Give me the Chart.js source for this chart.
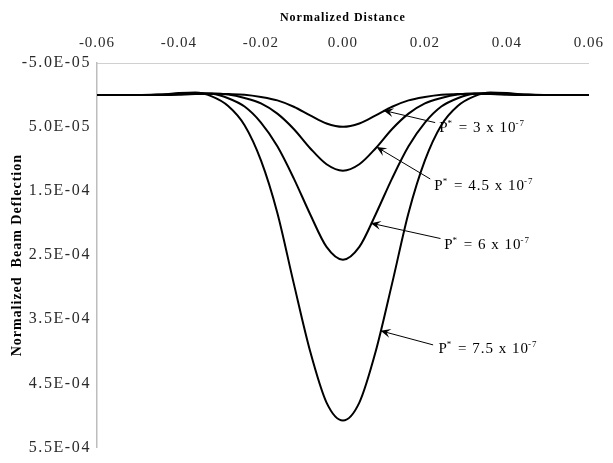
<!DOCTYPE html>
<html>
<head>
<meta charset="utf-8">
<script src="https://cdn.jsdelivr.net/npm/chart.js@4.4.1/dist/chart.umd.min.js"></script>
<style>
  html, body { margin: 0; padding: 0; background: #ffffff; }
  #wrap { width: 613px; height: 463px; }
</style>
</head>
<body>
<div id="wrap"><canvas id="c" width="613" height="463"></canvas></div>
<script>
// ---- Data ----
const xValues = [-0.06, -0.05, -0.044, -0.04, -0.036, -0.032, -0.028, -0.024, -0.02, -0.016, -0.012, -0.008, -0.004, 0,
                  0.004, 0.008, 0.012, 0.016, 0.02, 0.024, 0.028, 0.032, 0.036, 0.04, 0.044, 0.05, 0.06];

const seriesP3  = [0, 0, 0, -1e-6, -1.5e-6, -2e-6, -1.5e-6, -0.5e-6, 3e-6, 8.4e-6, 1.83e-5, 3.18e-5, 4.44e-5, 4.96e-5,
                   4.44e-5, 3.18e-5, 1.83e-5, 8.4e-6, 3e-6, -0.5e-6, -1.5e-6, -2e-6, -1.5e-6, -1e-6, 0, 0, 0];
const seriesP45 = [0, 0, 0, -1e-6, -2e-6, -2.5e-6, -1e-6, 4.5e-6, 1.3e-5, 2.9e-5, 5.3e-5, 8.3e-5, 1.08e-4, 1.18e-4,
                   1.08e-4, 8.3e-5, 5.3e-5, 2.9e-5, 1.3e-5, 4.5e-6, -1e-6, -2.5e-6, -2e-6, -1e-6, 0, 0, 0];
const seriesP6  = [0, 0, -1e-6, -2e-6, -3e-6, -2e-6, 5e-6, 1.8e-5, 4.3e-5, 8.0e-5, 1.3e-4, 1.86e-4, 2.37e-4, 2.57e-4,
                   2.37e-4, 1.86e-4, 1.3e-4, 8.0e-5, 4.3e-5, 1.8e-5, 5e-6, -2e-6, -3e-6, -2e-6, -1e-6, 0, 0];
const seriesP75 = [0, 0, -1e-6, -3e-6, -4e-6, 2e-6, 1.7e-5, 4.7e-5, 1.02e-4, 1.84e-4, 2.94e-4, 4.0e-4, 4.8e-4, 5.08e-4,
                   4.8e-4, 4.0e-4, 2.94e-4, 1.84e-4, 1.02e-4, 4.7e-5, 1.7e-5, 2e-6, -4e-6, -3e-6, -1e-6, 0, 0];

const xTickValues = [-0.06, -0.04, -0.02, 0.00, 0.02, 0.04, 0.06];
const xTickLabels = ['-0.06', '-0.04', '-0.02', '0.00', '0.02', '0.04', '0.06'];
const yTickValues = [-5e-5, 5e-5, 1.5e-4, 2.5e-4, 3.5e-4, 4.5e-4, 5.5e-4];
const yTickLabels = ['-5.0E-05', '5.0E-05', '1.5E-04', '2.5E-04', '3.5E-04', '4.5E-04', '5.5E-04'];

// label annotations: mantissa, tip point on curve, line end, text anchor (data units)
const labelMantissas = ['3', '4.5', '6', '7.5'];
const labelTips      = [[0.0099, 2.4e-5], [0.0082, 8.1e-5], [0.0068, 2.0e-4], [0.0092, 3.68e-4]];
const labelLineEnds  = [[0.0225, 4.3e-5], [0.0213, 1.31e-4], [0.0238, 2.24e-4], [0.0220, 3.9e-4]];
const labelTextPos   = [[0.0235, 5.0e-5], [0.0223, 1.40e-4], [0.0247, 2.32e-4], [0.0233, 3.95e-4]];

const toPoints = ys => xValues.map((x, i) => ({ x: x, y: ys[i] }));

const serif = "'Liberation Serif', 'Times New Roman', serif";

const wideText = {
  id: 'wideText',
  beforeDraw(chart) {
    chart.ctx.letterSpacing = '1px';
    const ys = chart.scales.y;
    if (ys && !ys._wideWrapped) {
      const orig = ys.drawLabels.bind(ys);
      ys.drawLabels = function (area) {
        const c = this.ctx, prev = c.letterSpacing;
        c.letterSpacing = '1.6px';
        orig(area);
        c.letterSpacing = prev;
      };
      ys._wideWrapped = true;
    }
  },
  afterDraw(chart) { chart.ctx.letterSpacing = '0px'; }
};

const arrowLabels = {
  id: 'arrowLabels',
  afterDatasetsDraw(chart) {
    const ctx = chart.ctx;
    const xs = chart.scales.x, ys = chart.scales.y;
    ctx.save();
    labelMantissas.forEach((m, i) => {
      const tx = xs.getPixelForValue(labelTips[i][0]), ty = ys.getPixelForValue(labelTips[i][1]);
      const ex = xs.getPixelForValue(labelLineEnds[i][0]), ey = ys.getPixelForValue(labelLineEnds[i][1]);
      ctx.strokeStyle = '#000';
      ctx.lineWidth = 1;
      ctx.beginPath();
      ctx.moveTo(ex, ey);
      ctx.lineTo(tx, ty);
      ctx.stroke();
      const ang = Math.atan2(ey - ty, ex - tx);
      const L = 10, W = 4.5;
      const bx = tx + Math.cos(ang) * L, by = ty + Math.sin(ang) * L;
      const nx = -Math.sin(ang) * W, ny = Math.cos(ang) * W;
      const mx = tx + Math.cos(ang) * L * 0.6, my = ty + Math.sin(ang) * L * 0.6;
      ctx.fillStyle = '#000';
      ctx.beginPath();
      ctx.moveTo(tx, ty);
      ctx.lineTo(bx + nx, by + ny);
      ctx.lineTo(mx, my);
      ctx.lineTo(bx - nx, by - ny);
      ctx.closePath();
      ctx.fill();
      let px = xs.getPixelForValue(labelTextPos[i][0]);
      const py = ys.getPixelForValue(labelTextPos[i][1]) + 5;
      ctx.textAlign = 'left';
      ctx.textBaseline = 'alphabetic';
      ctx.font = '15px ' + serif;
      ctx.fillText('P', px, py);
      px += ctx.measureText('P').width;
      ctx.font = '9px ' + serif;
      ctx.fillText('*', px - 1, py - 6);
      px += ctx.measureText('*').width;
      ctx.font = '15px ' + serif;
      const mid = ' = ' + m + ' x 10';
      ctx.fillText(mid, px, py);
      px += ctx.measureText(mid).width;
      ctx.font = '9px ' + serif;
      ctx.fillText('-7', px - 1, py - 6);
    });
    ctx.restore();
  }
};

new Chart(document.getElementById('c'), {
  type: 'line',
  data: {
    datasets: [
      { label: 'P* = 3 x 10-7', data: toPoints(seriesP3) },
      { label: 'P* = 4.5 x 10-7', data: toPoints(seriesP45) },
      { label: 'P* = 6 x 10-7', data: toPoints(seriesP6) },
      { label: 'P* = 7.5 x 10-7', data: toPoints(seriesP75) }
    ].map(d => Object.assign(d, {
      borderColor: '#000', backgroundColor: '#000', borderWidth: 2,
      pointRadius: 0, fill: false, cubicInterpolationMode: 'monotone'
    }))
  },
  options: {
    responsive: false,
    animation: false,
    devicePixelRatio: 1,
    layout: { padding: { left: 0, right: 21, top: 0, bottom: 13 } },
    plugins: { legend: { display: false }, tooltip: { enabled: false } },
    scales: {
      x: {
        type: 'linear', position: 'top', min: -0.06, max: 0.06,
        afterBuildTicks: s => { s.ticks = xTickValues.map(v => ({ value: v })); },
        afterFit: s => { s.height = 63; },
        ticks: {
          callback: (v, i) => xTickLabels[i],
          font: { family: serif, size: 15 }, color: '#2a2a2a', padding: 11, maxRotation: 0, autoSkip: false
        },
        grid: { display: false, drawTicks: false },
        border: { display: true, color: '#d0d0d0', width: 1 },
        title: { display: true, text: 'Normalized Distance', font: { family: serif, size: 12, weight: 'bold' }, color: '#000', padding: { top: 11, bottom: 4 } }
      },
      y: {
        type: 'linear', reverse: true, min: -5e-5, max: 5.5e-4,
        afterBuildTicks: s => { s.ticks = yTickValues.map(v => ({ value: v })); },
        afterFit: s => { s.width = 97; },
        ticks: {
          callback: (v, i) => yTickLabels[i],
          font: { family: serif, size: 16 }, color: '#2a2a2a', padding: 6, autoSkip: false
        },
        grid: { display: false, drawTicks: false },
        border: { display: true, color: '#bdbdbd', width: 1.5 },
        title: { display: true, text: 'Normalized  Beam Deflection', font: { family: serif, size: 14, weight: 'bold' }, color: '#000', padding: { top: 9, bottom: 4 } }
      }
    }
  },
  plugins: [wideText, arrowLabels]
});
</script>
</body>
</html>
